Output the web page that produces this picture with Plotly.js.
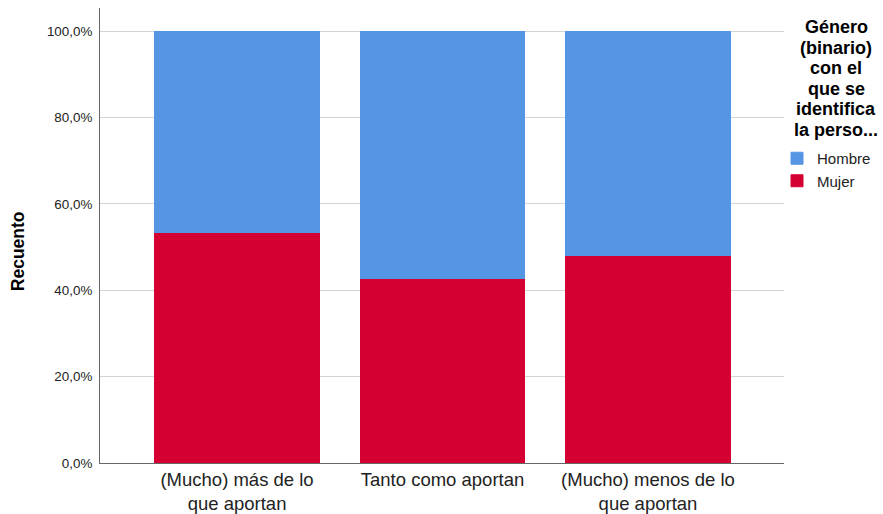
<!DOCTYPE html>
<html>
<head>
<meta charset="utf-8">
<script src="https://cdn.plot.ly/plotly-3.0.1.min.js"></script>
<style>html,body{margin:0;padding:0;background:#fff;}#chart{width:883px;height:514px;}</style>
</head>
<body>
<div id="chart"></div>
<script>
const categories = ["(Mucho) más de lo<br>que aportan", "Tanto como aportan", "(Mucho) menos de lo<br>que aportan"];
const mujer = [53.3, 42.8, 48.0];
const hombre = [46.7, 57.2, 52.0];
const yTickVals = [0, 20, 40, 60, 80, 100];
const yTickText = ["0,0%", "20,0%", "40,0%", "60,0%", "80,0%", "100,0%"];
const legendTitleLines = ["Género", "(binario)", "con el", "que se", "identifica", "la perso..."];

const FONT = "Liberation Sans, Arial, sans-serif";
const blue = "#5596E4";
const red = "#D50032";

const traces = [
  {type: "bar", name: "Mujer", x: [0, 1, 2], y: mujer,
   marker: {color: red, line: {color: red, width: 1}}, hoverinfo: "none"},
  {type: "bar", name: "Hombre", x: [0, 1, 2], y: hombre,
   marker: {color: blue, line: {color: blue, width: 1}}, hoverinfo: "none"}
];

const annotations = [
  {xref: "paper", yref: "paper", x: -0.1196, y: (463 - 251) / 455, xanchor: "center", yanchor: "middle",
   text: "<b>Recuento</b>", textangle: -90, showarrow: false,
   font: {family: FONT, size: 17.5, color: "#000"}}
];
legendTitleLines.forEach((t, i) => {
  annotations.push({xref: "paper", yref: "paper",
    x: (836 - 100) / 684, y: (463 - (27 + i * 20.6)) / 455,
    xanchor: "center", yanchor: "middle", text: "<b>" + t + "</b>", showarrow: false,
    borderpad: 0,
    font: {family: FONT, size: 18, color: "#000"}});
});

const layout = {
  width: 883, height: 514,
  margin: {l: 100, r: 99, t: 8, b: 51, pad: 0, autoexpand: false},
  paper_bgcolor: "#fff", plot_bgcolor: "#fff",
  barmode: "stack", bargap: 0.2,
  font: {family: FONT, color: "#222"},
  showlegend: true,
  legend: {x: (777 - 100) / 684, xanchor: "left", y: (463 - 142) / 455, yanchor: "top",
    traceorder: "reversed", font: {family: FONT, size: 15, color: "#222"},
    bgcolor: "rgba(0,0,0,0)", borderwidth: 0, itemclick: false},
  xaxis: {range: [-0.667, 2.662], tickvals: [0, 1, 2], ticktext: categories,
    showgrid: false, zeroline: false, showline: true, linecolor: "#666", linewidth: 1,
    ticks: "", tickfont: {family: FONT, size: 18.5, color: "#222"}, fixedrange: true},
  yaxis: {range: [0, 105.4], tickvals: yTickVals, ticktext: yTickText,
    showgrid: true, gridcolor: "#d4d4d4", gridwidth: 1, zeroline: false,
    showline: true, linecolor: "#666", linewidth: 1, ticks: "", ticklabelstandoff: 4,
    tickfont: {family: FONT, size: 13.4, color: "#222"}, fixedrange: true},
  annotations: annotations
};

Plotly.newPlot("chart", traces, layout, {displayModeBar: false, staticPlot: true});
</script>
</body>
</html>
